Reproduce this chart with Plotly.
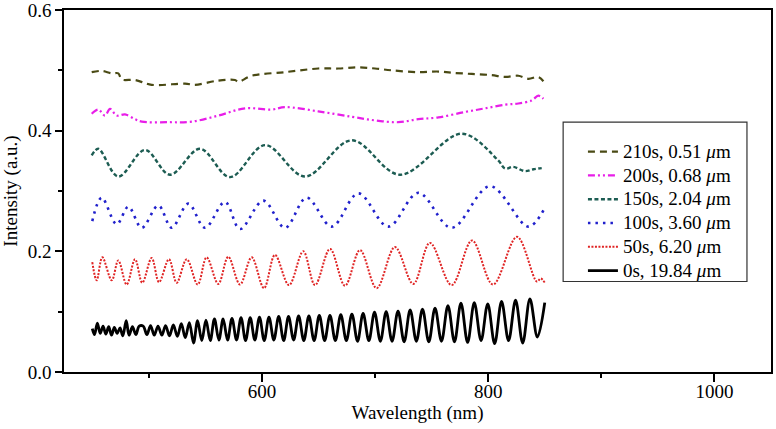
import plotly.graph_objects as go

# ---------------- data ----------------
# 0s, 19.84 um  (black, solid)
wl_0s = [450.0, 452.0, 454.5, 457.0, 459.5, 462.0, 464.5, 467.0, 469.5, 472.0,
         474.5, 477.0, 480.0, 482.5, 485.5, 488.5, 491.5,
         495.0, 498.3, 501.5, 504.8, 508.1, 511.5, 514.8, 518.2, 521.7, 525.2,
         528.7, 532.2, 535.8, 539.5, 543.1, 546.8, 550.5, 554.3, 558.0, 561.9,
         565.7, 569.6, 573.5, 577.5, 581.5, 585.5, 589.6, 593.7, 597.8, 602.0,
         606.2, 610.5, 614.8, 619.2, 623.5, 628.0, 632.4, 637.0, 641.5, 646.1,
         650.7, 655.4, 660.1, 664.9, 669.7, 674.6, 679.5, 684.5, 689.4, 694.5,
         699.5, 704.7, 709.8, 715.0, 720.3, 725.7, 731.0, 736.5, 741.9, 747.5,
         753.0, 758.7, 764.4, 770.2, 775.9, 781.8, 787.7, 793.7, 799.6, 805.7,
         811.8, 818.0, 824.2, 830.5, 836.9, 843.5, 850.0]
int_0s = [0.072, 0.062, 0.081, 0.064, 0.076, 0.063, 0.075, 0.061, 0.074, 0.064,
          0.073, 0.060, 0.085, 0.061, 0.075, 0.062, 0.076,
          0.076, 0.062, 0.077, 0.061, 0.076, 0.061, 0.077, 0.060, 0.078, 0.059,
          0.080, 0.057, 0.082, 0.048, 0.085, 0.052, 0.086, 0.052, 0.088, 0.053,
          0.088, 0.053, 0.089, 0.053, 0.090, 0.052, 0.090, 0.053, 0.091, 0.052,
          0.091, 0.053, 0.092, 0.052, 0.092, 0.053, 0.093, 0.052, 0.093, 0.052,
          0.094, 0.052, 0.094, 0.052, 0.095, 0.052, 0.096, 0.051, 0.097, 0.052,
          0.099, 0.051, 0.100, 0.051, 0.101, 0.050, 0.103, 0.051, 0.104, 0.050,
          0.106, 0.051, 0.110, 0.050, 0.114, 0.049, 0.115, 0.052, 0.113, 0.047,
          0.117, 0.052, 0.119, 0.048, 0.121, 0.058, 0.115]

# 50s, 6.20 um (red, dotted)
wl_50s = [450.0, 453.9, 458.9, 467.2, 473.0, 480.4, 487.8, 494.2, 502.5, 509.0,
          517.8, 524.6, 533.5, 543.2, 551.1, 561.4, 570.2, 580.6, 590.9, 601.8,
          611.5, 623.9, 636.5, 646.9, 660.2, 673.4, 686.7, 701.4, 717.6, 733.8,
          748.5, 767.7, 785.7, 804.2, 825.5, 843.0, 846.5, 850.0]
int_50s = [0.182, 0.152, 0.190, 0.152, 0.185, 0.145, 0.187, 0.148, 0.189, 0.149,
           0.187, 0.148, 0.187, 0.145, 0.190, 0.146, 0.191, 0.145, 0.190, 0.139,
           0.194, 0.144, 0.200, 0.144, 0.204, 0.143, 0.202, 0.139, 0.207, 0.146,
           0.214, 0.144, 0.218, 0.145, 0.224, 0.150, 0.155, 0.148]

# 100s, 3.60 um (blue, dotted)
wl_100s = [450.0, 458.3, 471.6, 481.9, 493.7, 508.4, 520.2, 534.9, 549.6, 567.3,
           580.6, 601.2, 620.4, 639.5, 661.7, 685.2, 711.7, 738.2, 767.7, 801.6,
           835.5, 848.8]
int_100s = [0.250, 0.289, 0.245, 0.274, 0.239, 0.276, 0.239, 0.279, 0.239, 0.282,
            0.237, 0.284, 0.239, 0.289, 0.241, 0.296, 0.241, 0.297, 0.239, 0.308,
            0.241, 0.268]

# 150s, 2.04 um (dark teal, short dash)
wl_150s = [449.5, 455.3, 473.0, 496.6, 518.7, 545.2, 571.7, 602.7, 638.0, 679.3,
           722.0, 776.6, 808.7, 815.0, 822.0, 832.5, 840.0, 847.3]
int_150s = [0.359, 0.370, 0.324, 0.368, 0.327, 0.370, 0.323, 0.376, 0.324, 0.384,
            0.327, 0.395, 0.351, 0.337, 0.340, 0.333, 0.336, 0.338]

# 200s, 0.68 um (magenta, dash-dot-dot)
wl_200s = [449.5, 455.3, 461.2, 465.7, 471.6, 478.9, 487.8, 493.7, 517.2, 537.9,
           561.4, 585.0, 608.6, 620.4, 649.8, 679.3, 699.9, 720.5, 738.2, 755.9,
           779.5, 797.2, 814.8, 826.6, 838.4, 844.3, 848.8]
int_200s = [0.428, 0.435, 0.425, 0.436, 0.425, 0.427, 0.419, 0.415, 0.414, 0.415,
            0.425, 0.437, 0.435, 0.439, 0.432, 0.423, 0.417, 0.414, 0.419, 0.422,
            0.431, 0.437, 0.443, 0.445, 0.450, 0.458, 0.453]

# 210s, 0.51 um (olive, dashed)
wl_210s = [449.5, 458.3, 467.2, 473.0, 476.0, 487.8, 502.5, 532.0, 540.8, 561.4,
           576.2, 579.1, 590.9, 620.4, 649.8, 667.5, 685.2, 699.9, 714.7, 738.2,
           755.9, 767.7, 785.4, 803.1, 814.8, 826.6, 835.5, 844.3, 848.8]
int_210s = [0.497, 0.499, 0.495, 0.495, 0.485, 0.484, 0.476, 0.478, 0.476, 0.483,
            0.484, 0.481, 0.491, 0.497, 0.503, 0.503, 0.505, 0.503, 0.500, 0.497,
            0.498, 0.496, 0.494, 0.492, 0.489, 0.491, 0.486, 0.489, 0.482]

series_labels = ["210s, 0.51 <i>\u03bc</i>m", "200s, 0.68 <i>\u03bc</i>m",
                 "150s, 2.04 <i>\u03bc</i>m", "100s, 3.60 <i>\u03bc</i>m",
                 "50s, 6.20 <i>\u03bc</i>m", "0s, 19.84 <i>\u03bc</i>m"]

x_tick_vals = [600, 800, 1000]
y_tick_vals = [0.0, 0.2, 0.4, 0.6]
y_tick_text = ["0.0", "0.2", "0.4", "0.6"]

# ---------------- figure ----------------
FONT = "Liberation Serif"
fig = go.Figure()

styles = [
    (wl_210s, int_210s, "#4a4a14", "7px,5px", 2.2),
    (wl_200s, int_200s, "#e81ee8", "7px,3px,2px,3px,2px,3px", 2.2),
    (wl_150s, int_150s, "#1c5c52", "4px,2.5px", 2.4),
    (wl_100s, int_100s, "#2020cc", "2.5px,5px", 2.6),
    (wl_50s, int_50s, "#e02424", "2px,1.5px", 2.0),
    (wl_0s, int_0s, "#000000", "solid", 2.8),
]
for (xs, ys, col, dash, w), label in zip(styles, series_labels):
    fig.add_trace(go.Scatter(
        x=xs, y=ys, mode="lines",
        name='<span style="font-size:19px">' + label + "</span>",
        line=dict(color=col, dash=dash, width=w, shape="spline", smoothing=1.0),
    ))

# legend frame (paper coordinates)
fig.add_shape(type="rect", xref="paper", yref="paper",
              x0=0.706, x1=0.966, y0=0.250, y1=0.690,
              line=dict(color="#333333", width=1.2), fillcolor="rgba(0,0,0,0)")

fig.update_layout(
    width=776, height=429,
    margin=dict(l=64, r=5, t=10, b=57, autoexpand=False),
    paper_bgcolor="white", plot_bgcolor="white",
    font=dict(family=FONT, size=19, color="black"),
    showlegend=True,
    legend=dict(
        x=0.734, y=0.6555, xanchor="left", yanchor="top",
        bgcolor="rgba(0,0,0,0)", borderwidth=0,
        font=dict(family=FONT, size=16, color="black"),
        tracegroupgap=0,
    ),
)
fig.update_xaxes(
    range=[425, 1050], showgrid=False, zeroline=False, automargin=False,
    showline=True, linecolor="black", linewidth=1.5, mirror=True,
    ticks="outside", ticklen=8, tickwidth=1.5, tickcolor="black",
    tickvals=x_tick_vals, ticklabelstandoff=-7, ticklabeloverflow="allow",
    minor=dict(tickvals=[500, 700, 900], ticklen=4, tickwidth=1.5,
               tickcolor="black", ticks="outside"),
    tickfont=dict(family=FONT, size=19),
    title=dict(text="Wavelength (nm)", font=dict(family=FONT, size=19), standoff=2),
)
fig.update_yaxes(
    range=[0, 0.6], showgrid=False, zeroline=False, automargin=False,
    showline=True, linecolor="black", linewidth=1.5, mirror=True,
    ticks="outside", ticklen=7, tickwidth=1.5, tickcolor="black",
    tickvals=y_tick_vals, ticktext=y_tick_text, ticklabeloverflow="allow",
    minor=dict(tickvals=[0.1, 0.3, 0.5], ticklen=4, tickwidth=1.5,
               tickcolor="black", ticks="outside"),
    tickfont=dict(family=FONT, size=19),
    title=dict(text="Intensity (a.u.)", font=dict(family=FONT, size=19), standoff=5),
)

fig.write_html("out.html", config={"displayModeBar": False},
               post_script="document.body.style.margin='0';")
